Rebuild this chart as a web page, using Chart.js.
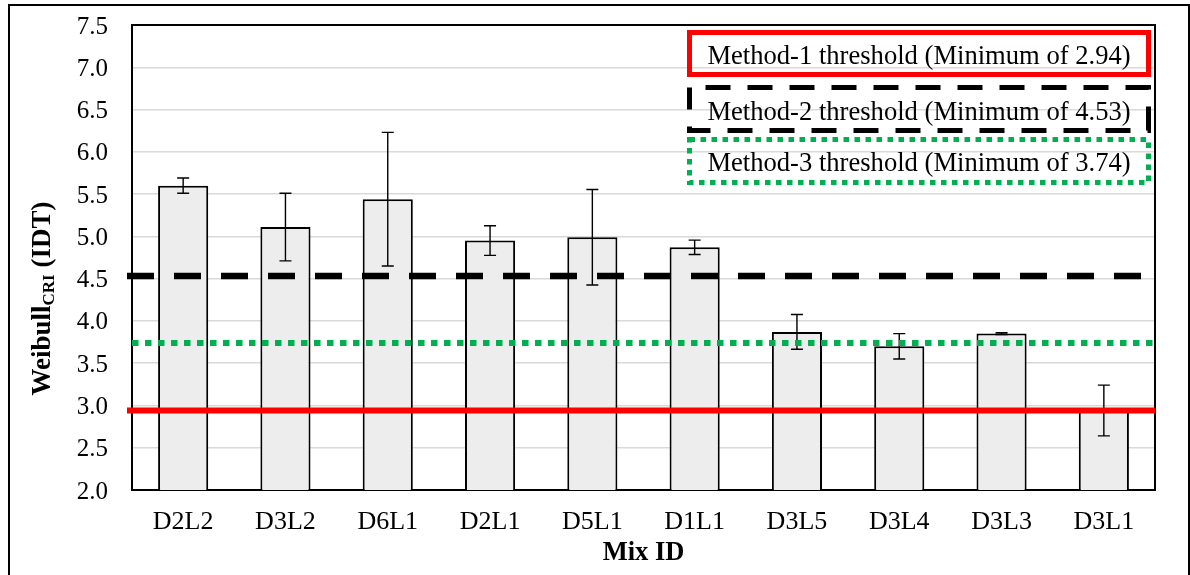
<!DOCTYPE html>
<html>
<head>
<meta charset="utf-8">
<title>Weibull CRI (IDT) by Mix ID</title>
<script src="https://cdn.jsdelivr.net/npm/chart.js@4.4.1/dist/chart.umd.min.js"></script>
<style>
  html, body { margin: 0; padding: 0; background: #fff; }
  #wrap { position: relative; width: 1190px; height: 575px; overflow: hidden; }
  #c { position: absolute; left: 0; top: 0; }
  #frame { position: absolute; left: 8px; top: 4px; width: 1182px; height: 620px;
           border: 2.5px solid #000; box-sizing: border-box; pointer-events: none; }
</style>
</head>
<body>
<div id="wrap">
  <canvas id="c" width="1190" height="575"></canvas>
  <div id="frame"></div>
</div>
<script>
// Mix designs and their Weibull CRI (IDT) results
const mixIds = ['D2L2', 'D3L2', 'D6L1', 'D2L1', 'D5L1', 'D1L1', 'D3L5', 'D3L4', 'D3L3', 'D3L1'];
const weibullMeans = [5.60, 5.11, 5.44, 4.95, 4.99, 4.87, 3.87, 3.70, 3.85, 2.94];
const errorHalfRange = [0.09, 0.40, 0.79, 0.175, 0.565, 0.085, 0.205, 0.15, 0.01, 0.30];

// Threshold criteria (minimum acceptable values)
const thresholdNames = ['Method-1', 'Method-2', 'Method-3'];
const thresholdValues = [2.94, 4.53, 3.74];

// Y axis range and tick step
const yMin = 2.0;
const yMax = 7.5;
const yStep = 0.5;

const SERIF = "'Liberation Serif', 'Times New Roman', serif";

const thresholdStyles = [
  { color: '#FF0000', width: 6, dash: [], extendLeft: 5 },
  { color: '#000000', width: 6.5, dash: [27, 20], extendLeft: 5 },
  { color: '#00B050', width: 6, dash: [6.5, 6.5], extendLeft: 0 }
];

// Box around the plotting area
const plotFrame = {
  id: 'plotFrame',
  beforeDatasetsDraw(chart) {
    const { ctx, chartArea: a } = chart;
    ctx.save();
    ctx.strokeStyle = '#000';
    ctx.lineWidth = 2;
    ctx.strokeRect(a.left, a.top, a.right - a.left, a.bottom - a.top);
    ctx.restore();
  }
};

// Error bars with caps, centred on each bar
const errorBars = {
  id: 'errorBars',
  afterDatasetsDraw(chart) {
    const { ctx } = chart;
    const y = chart.scales.y;
    const meta = chart.getDatasetMeta(0);
    ctx.save();
    ctx.strokeStyle = '#000';
    ctx.lineWidth = 1.4;
    meta.data.forEach((bar, i) => {
      const top = y.getPixelForValue(weibullMeans[i] + errorHalfRange[i]);
      const bot = y.getPixelForValue(weibullMeans[i] - errorHalfRange[i]);
      const x = bar.x;
      const cap = 6;
      ctx.beginPath();
      ctx.moveTo(x, top); ctx.lineTo(x, bot);
      ctx.moveTo(x - cap, top); ctx.lineTo(x + cap, top);
      ctx.moveTo(x - cap, bot); ctx.lineTo(x + cap, bot);
      ctx.stroke();
    });
    ctx.restore();
  }
};

// Horizontal threshold lines across the plotting area
const thresholdLines = {
  id: 'thresholdLines',
  afterDatasetsDraw(chart) {
    const { ctx, chartArea: a } = chart;
    const y = chart.scales.y;
    ctx.save();
    ctx.lineCap = 'butt';
    [2, 1, 0].forEach(i => {
      const s = thresholdStyles[i];
      const py = y.getPixelForValue(thresholdValues[i]);
      ctx.strokeStyle = s.color;
      ctx.lineWidth = s.width;
      ctx.setLineDash(s.dash);
      ctx.beginPath();
      ctx.moveTo(a.left - s.extendLeft, py);
      ctx.lineTo(a.right, py);
      ctx.stroke();
    });
    ctx.restore();
  }
};

// Legend boxes in the upper-right corner
const thresholdLegend = {
  id: 'thresholdLegend',
  afterDraw(chart) {
    const { ctx, chartArea: a } = chart;
    const boxLeft = a.right - 468;
    const boxW = 464;
    const rows = [
      { top: 30, h: 47, baseline: 64, dash: [], offset: 0 },
      { top: 85, h: 48, baseline: 119.5, dash: [25, 17], offset: 26 },
      { top: 137, h: 48, baseline: 171, dash: [5.5, 5.5], offset: 0 }
    ];
    ctx.save();
    rows.forEach((r, i) => {
      const s = thresholdStyles[i];
      const lw = 5;
      ctx.strokeStyle = s.color;
      ctx.lineWidth = lw;
      ctx.setLineDash(r.dash);
      ctx.lineDashOffset = r.offset;
      ctx.strokeRect(boxLeft + lw / 2, r.top + lw / 2, boxW - lw, r.h - lw);
      ctx.setLineDash([]);
      ctx.fillStyle = '#000';
      ctx.font = '26.6px ' + SERIF;
      ctx.textAlign = 'center';
      ctx.textBaseline = 'alphabetic';
      ctx.fillText(thresholdNames[i] + ' threshold (Minimum of ' + thresholdValues[i].toFixed(2) + ')',
        boxLeft + boxW / 2, r.baseline);
    });
    ctx.restore();
  }
};

// Rotated y-axis title with subscript
const yAxisTitle = {
  id: 'yAxisTitle',
  afterDraw(chart) {
    const { ctx } = chart;
    const parts = [
      { t: 'Weibull', size: 27, dy: 0 },
      { t: 'CRI', size: 17, dy: 4 },
      { t: ' (IDT)', size: 27, dy: 0 }
    ];
    ctx.save();
    ctx.fillStyle = '#000';
    ctx.textBaseline = 'alphabetic';
    ctx.textAlign = 'left';
    let total = 0;
    parts.forEach(p => { ctx.font = 'bold ' + p.size + 'px ' + SERIF; p.w = ctx.measureText(p.t).width; total += p.w; });
    ctx.translate(50, 298.5);
    ctx.rotate(-Math.PI / 2);
    let x = -total / 2;
    parts.forEach(p => {
      ctx.font = 'bold ' + p.size + 'px ' + SERIF;
      ctx.fillText(p.t, x, p.dy);
      x += p.w;
    });
    ctx.restore();
  }
};

new Chart(document.getElementById('c'), {
  type: 'bar',
  data: {
    labels: mixIds,
    datasets: [{
      label: 'Weibull CRI (IDT)',
      data: weibullMeans,
      backgroundColor: '#EDEDED',
      borderColor: '#000000',
      borderWidth: 2,
      categoryPercentage: 1.0,
      barPercentage: 0.49
    }]
  },
  options: {
    responsive: false,
    animation: false,
    devicePixelRatio: 1,
    layout: { padding: { left: 0, right: 35, top: 25, bottom: 0 } },
    plugins: {
      legend: { display: false },
      tooltip: { enabled: false }
    },
    scales: {
      x: {
        grid: { display: false },
        border: { display: false },
        ticks: {
          color: '#000',
          font: { family: SERIF, size: 26 },
          padding: 9,
          maxRotation: 0,
          autoSkip: false
        },
        title: {
          display: true,
          text: 'Mix ID',
          color: '#000',
          font: { family: SERIF, size: 26.5, weight: 'bold' },
          padding: { top: 0, bottom: 6 }
        },
        afterFit(scale) {
          scale.height = 85;
          scale.paddingLeft = 0;
          scale.paddingRight = 0;
        }
      },
      y: {
        min: yMin,
        max: yMax,
        grid: { color: '#D9D9D9', lineWidth: 1.5, drawTicks: false },
        border: { display: false },
        ticks: {
          stepSize: yStep,
          color: '#000',
          font: { family: SERIF, size: 25 },
          padding: 24,
          labelOffset: 2,
          callback: v => Number(v).toFixed(1)
        },
        afterFit(scale) {
          scale.width = 132;
          scale.paddingTop = 0;
          scale.paddingBottom = 0;
        }
      }
    }
  },
  plugins: [plotFrame, errorBars, thresholdLines, thresholdLegend, yAxisTitle]
});
</script>
</body>
</html>
